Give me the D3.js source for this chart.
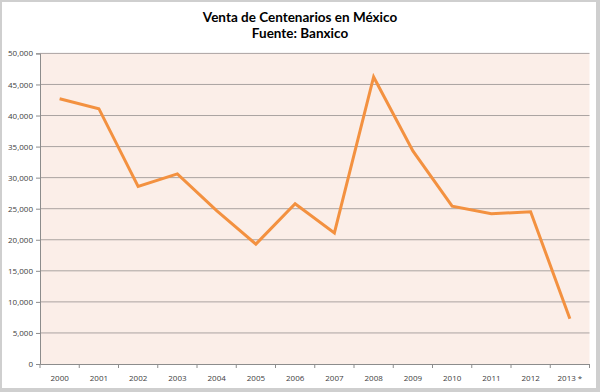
<!DOCTYPE html>
<html>
<head>
<meta charset="utf-8">
<script src="https://cdn.jsdelivr.net/npm/d3@7"></script>
<style>
  html, body { margin: 0; padding: 0; background: #fff; }
  svg { display: block; }
</style>
</head>
<body>
<svg id="chart" width="600" height="392"></svg>
<script>
// data
const years = ['2000', '2001', '2002', '2003', '2004', '2005', '2006',
    '2007', '2008', '2009', '2010', '2011', '2012', '2013 *'];
const ventas = [42700, 41100, 28600, 30600, 24700, 19300, 25800,
    21100, 46200, 34300, 25400, 24200, 24500, 7300];
const yTicks = [0, 5000, 10000, 15000, 20000, 25000, 30000, 35000, 40000, 45000, 50000];
const titleLines = ['Venta de Centenarios en México', 'Fuente: Banxico'];

const margin = { left: 40, right: 10.5, top: 53.4, bottom: 28 };
const width = 600;
const height = 392;

const svg = d3.select('#chart');

// outer frame
svg.append('rect')
    .attr('x', 0).attr('y', 0)
    .attr('width', width).attr('height', height)
    .attr('fill', '#cfcfcf');
svg.append('rect')
    .attr('x', 2).attr('y', 2)
    .attr('width', width - 6).attr('height', height - 6)
    .attr('fill', '#fff');

const x = d3.scaleBand()
    .domain(years)
    .range([margin.left, width - margin.right]);

const y = d3.scaleLinear()
    .domain([0, 50000])
    .range([height - margin.bottom, margin.top]);

// plot background
svg.append('rect')
    .attr('x', margin.left)
    .attr('y', margin.top)
    .attr('width', width - margin.right - margin.left)
    .attr('height', height - margin.bottom - margin.top)
    .attr('fill', '#fbeee8');

// gridlines
svg.append('g')
    .selectAll('line')
    .data(yTicks.filter(d => d > 0))
    .join('line')
    .attr('x1', margin.left)
    .attr('x2', width - margin.right)
    .attr('y1', d => y(d))
    .attr('y2', d => y(d))
    .attr('stroke', '#aaa3a1')
    .attr('stroke-width', 1);

const fmt = d3.format(',');

const yAxis = svg.append('g')
    .attr('transform', `translate(${margin.left},0)`)
    .call(d3.axisLeft(y).tickValues(yTicks).tickFormat(fmt).tickSize(4).tickPadding(3));

const xAxis = svg.append('g')
    .attr('transform', `translate(0,${y(0)})`)
    .call(d3.axisBottom(x).tickSize(0).tickPadding(11));

// category boundary ticks on the x axis
xAxis.append('g')
    .selectAll('line')
    .data(years.concat(['end']))
    .join('line')
    .attr('x1', (d, i) => margin.left + i * x.step())
    .attr('x2', (d, i) => margin.left + i * x.step())
    .attr('y1', 0)
    .attr('y2', 4)
    .attr('stroke', '#8c8c8c');

[yAxis, xAxis].forEach(g => {
    g.select('.domain').attr('stroke', '#8c8c8c');
    g.selectAll('.tick line').attr('stroke', '#8c8c8c');
    g.selectAll('text')
        .attr('fill', '#404040')
        .style('font', '8px "Open Sans", sans-serif');
});

// the series line
const line = d3.line()
    .x((d, i) => x(years[i]) + x.bandwidth() / 2)
    .y(d => y(d));

svg.append('path')
    .datum(ventas)
    .attr('d', line)
    .attr('fill', 'none')
    .attr('stroke', '#f39140')
    .attr('stroke-width', 3)
    .attr('stroke-linejoin', 'miter');

// title
svg.append('g')
    .selectAll('text')
    .data(titleLines)
    .join('text')
    .attr('x', 300)
    .attr('y', (d, i) => 21.5 + i * 16.5)
    .attr('text-anchor', 'middle')
    .attr('fill', '#000')
    .style('font', 'bold 13.5px Lato, sans-serif')
    .text(d => d);
</script>
</body>
</html>
